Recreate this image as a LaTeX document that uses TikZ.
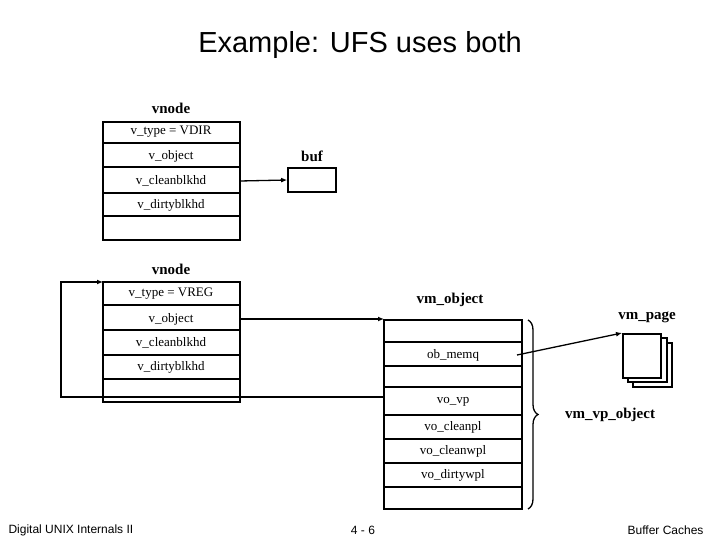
\documentclass[tikz,border=0pt]{standalone}
\usepackage{fontspec}
\setmainfont{Liberation Serif}
\newfontfamily\arial{Liberation Sans}
\usetikzlibrary{decorations.pathreplacing,arrows.meta}
\begin{document}
\begin{tikzpicture}[x=1pt,y=-1pt,
  box/.style={draw,line width=1.6pt},
  fld/.style={font=\fontsize{13}{13}\selectfont},
  lbl/.style={font=\fontsize{15}{15}\selectfont\bfseries},
  ln/.style={line width=1.3pt},
  arr/.style={ln,-{Latex[length=6pt,width=5pt]}}]
\useasboundingbox (0,0) rectangle (720,540);
\node[font=\arial\fontsize{29}{29}\selectfont] (title) at (360,45) {Example: UFS uses both};
% vnode 1
\node[lbl] (vn1) at (171,108) {vnode};
\draw[box] (103,122) rectangle (240,240);
\foreach \y in {143,167,193,216} \draw[box] (103,\y) -- (240,\y);
\node[fld] (a1) at (171,132) {v\_type = VDIR};
\node[fld] (a2) at (171,156) {v\_object};
\node[fld] (a3) at (171,181) {v\_cleanblkhd};
\node[fld] (a4) at (171,205) {v\_dirtyblkhd};
\node[lbl] (buft) at (312,156) {buf};
\node[draw,line width=1.6pt,minimum width=48pt,minimum height=24pt,inner sep=0] (buf) at (312,180) {};
\draw[arr] (240,181) -- (buf.west);
% vnode 2
\node[lbl] (vn2) at (171,269) {vnode};
\draw[box] (103,282) rectangle (240,402);
\foreach \y in {305,330,355,379} \draw[box] (103,\y) -- (240,\y);
\node[fld] (b1) at (171,294) {v\_type = VREG};
\node[fld] (b2) at (171,319) {v\_object};
\node[fld] (b3) at (171,343) {v\_cleanblkhd};
\node[fld] (b4) at (171,367) {v\_dirtyblkhd};
% vm_object
\node[lbl] (vmo) at (450,300) {vm\_object};
\draw[box] (384,320) rectangle (522,509);
\foreach \y in {342,366,387,415,439,463,487} \draw[box] (384,\y) -- (522,\y);
\node[fld] (c1) at (453,355) {ob\_memq};
\node[fld] (c2) at (453,402) {vo\_vp};
\node[fld] (c3) at (453,427) {vo\_cleanpl};
\node[fld] (c4) at (453,451) {vo\_cleanwpl};
\node[fld] (c5) at (453,475) {vo\_dirtywpl};
\coordinate (vmotl) at (384,319);
\draw[arr] (240,319) -- (vmotl);
\coordinate (l1) at (384,397);
\coordinate (l2) at (61,397);
\coordinate (l3) at (61,282);
\coordinate (vn2tl) at (103,282);
\draw[arr] (l1) -- (l2) -- (l3) -- (vn2tl);
% brace
\draw[line width=1.3pt,decorate,decoration={brace,amplitude=10pt}] (528,320) -- (528,509);
\node[lbl] (vvp) at (610,415) {vm\_vp\_object};
% vm_page
\node[lbl] (vmp) at (647,317) {vm\_page};
\draw[box,fill=white] (633,343) rectangle (672,387);
\draw[box,fill=white] (628,338) rectangle (667,382);
\node[draw,line width=1.6pt,fill=white,minimum width=38pt,minimum height=44pt,inner sep=0,anchor=north west] (pg) at (622,333) {};
\coordinate (om) at (517,355);
\draw[arr] (om) -- (pg.north west);
% footer
\node[font=\arial\fontsize{12}{12}\selectfont,anchor=west] (f1) at (5,530) {Digital UNIX Internals II};
\node[font=\arial\fontsize{12}{12}\selectfont] (f2) at (363,530) {4 - 6};
\node[font=\arial\fontsize{12}{12}\selectfont,anchor=east] (f3) at (707,530) {Buffer Caches};
\end{tikzpicture}
\end{document}
